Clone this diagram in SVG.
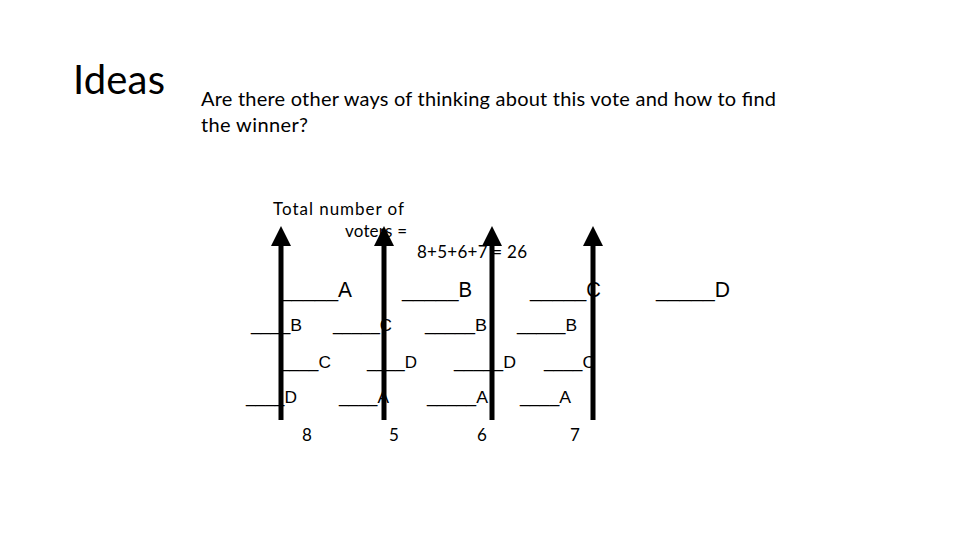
<svg xmlns="http://www.w3.org/2000/svg" width="960" height="540" viewBox="0 0 960 540">
<style>
text{font-family:Lato,"Open Sans",sans-serif;fill:#000}
.b{font-size:22px;font-family:"Liberation Sans",sans-serif}.s{font-size:16px;font-family:"Liberation Sans",sans-serif}.m{font-size:17px}
.ax{stroke:#000;stroke-width:5;fill:none}
</style>
<defs><marker id="ah" markerWidth="4" markerHeight="4" refX="2" refY="2" orient="auto" markerUnits="strokeWidth"><path d="M0,0L4,2L0,4z" fill="#000"/></marker></defs>
<rect width="960" height="540" fill="#fff"/>
<g id="title"><text x="73" y="94" style="font-size:40px" textLength="92">Ideas</text></g>
<g id="question"><text x="201" y="106" style="font-size:20px" textLength="575">Are there other ways of thinking about this vote and how to find</text><text x="201" y="132" style="font-size:20px" textLength="107">the winner?</text></g>
<g id="connectors">
<line class="ax" x1="281" y1="420" x2="281" y2="236" marker-end="url(#ah)"/>
<line class="ax" x1="384" y1="420" x2="384" y2="236" marker-end="url(#ah)"/>
<line class="ax" x1="492" y1="420" x2="492" y2="236" marker-end="url(#ah)"/>
<line class="ax" x1="593" y1="420" x2="593" y2="236" marker-end="url(#ah)"/>
</g>
<g id="total"><text class="m" x="273" y="215" textLength="131">Total number of</text><text class="m" x="345" y="237" textLength="62">voters =</text><text class="m" x="417" y="258" textLength="110">8+5+6+7 = 26</text></g>
<g id="col1"><text class="b" x="280" y="297" textLength="72" lengthAdjust="spacingAndGlyphs">_____A</text><text class="s" x="251" y="331" textLength="51" lengthAdjust="spacingAndGlyphs">____B</text><text class="s" x="280" y="368" textLength="51" lengthAdjust="spacingAndGlyphs">____C</text><text class="s" x="246" y="403" textLength="51" lengthAdjust="spacingAndGlyphs">____D</text><text class="m" x="302" y="441">8</text></g>
<g id="col2"><text class="b" x="402" y="297" textLength="70" lengthAdjust="spacingAndGlyphs">_____B</text><text class="s" x="333" y="331" textLength="59" lengthAdjust="spacingAndGlyphs">_____C</text><text class="s" x="367" y="368" textLength="50" lengthAdjust="spacingAndGlyphs">____D</text><text class="s" x="339" y="403" textLength="50" lengthAdjust="spacingAndGlyphs">____A</text><text class="m" x="389" y="441">5</text></g>
<g id="col3"><text class="b" x="530" y="297" textLength="71" lengthAdjust="spacingAndGlyphs">_____C</text><text class="s" x="425" y="331" textLength="62" lengthAdjust="spacingAndGlyphs">_____B</text><text class="s" x="454" y="368" textLength="62" lengthAdjust="spacingAndGlyphs">_____D</text><text class="s" x="427" y="403" textLength="61" lengthAdjust="spacingAndGlyphs">_____A</text><text class="m" x="477" y="441">6</text></g>
<g id="col4"><text class="b" x="656" y="297" textLength="74" lengthAdjust="spacingAndGlyphs">_____D</text><text class="s" x="517" y="331" textLength="60" lengthAdjust="spacingAndGlyphs">_____B</text><text class="s" x="544" y="368" textLength="51" lengthAdjust="spacingAndGlyphs">____C</text><text class="s" x="520" y="403" textLength="51" lengthAdjust="spacingAndGlyphs">____A</text><text class="m" x="570" y="441">7</text></g>
</svg>
